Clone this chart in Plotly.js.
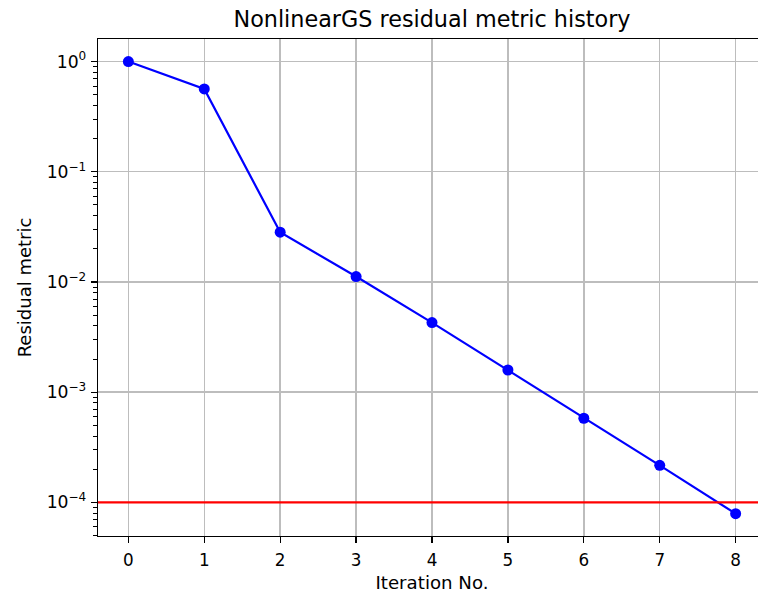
<!DOCTYPE html>
<html>
<head>
<meta charset="utf-8">
<script src="https://cdn.plot.ly/plotly-3.0.1.min.js"></script>
<style>
  html, body { margin: 0; padding: 0; background: #ffffff; overflow: hidden; }
  #chart { width: 800px; height: 596px; }
</style>
</head>
<body>
<div id="chart"></div>
<script>
// Residual history of the nonlinear Gauss-Seidel solver
const iterations = [0, 1, 2, 3, 4, 5, 6, 7, 8];
const residuals = [1.0, 0.565, 0.0283, 0.0112, 0.00428, 0.00159, 0.00058, 0.000217, 0.000079];
const tolerance = 1e-4;

const xTickVals = [0, 1, 2, 3, 4, 5, 6, 7, 8];
const yTickVals = [1, 0.1, 0.01, 0.001, 0.0001];
const yTickText = ['10<sup>0</sup>', '10<sup>−1</sup>', '10<sup>−2</sup>', '10<sup>−3</sup>', '10<sup>−4</sup>'];

const xRange = [-0.4, 8.4];
const yRangeLog = [-4.305, 0.205];

const font = 'DejaVu Sans, Liberation Sans, sans-serif';

const traces = [
  {
    x: iterations,
    y: residuals,
    type: 'scatter',
    mode: 'lines+markers',
    line: { color: '#0000ff', width: 2.2 },
    marker: { color: '#0000ff', size: 11 },
    cliponaxis: false,
    hoverinfo: 'x+y'
  },
  {
    // convergence tolerance across the full axis width
    x: xRange,
    y: [tolerance, tolerance],
    type: 'scatter',
    mode: 'lines',
    line: { color: '#ff0000', width: 2.4 },
    hoverinfo: 'y'
  }
];

const layout = {
  width: 800,
  height: 596,
  margin: { l: 98, r: 34, t: 39, b: 60 },
  paper_bgcolor: '#ffffff',
  plot_bgcolor: '#ffffff',
  showlegend: false,
  font: { family: font, size: 16.5, color: '#000000' },
  title: {
    text: 'NonlinearGS residual metric history',
    font: { family: font, size: 22.3, color: '#000000' },
    x: 0.5,
    xref: 'paper',
    xanchor: 'center',
    y: 1 - 19 / 596,
    yref: 'container',
    yanchor: 'middle'
  },
  xaxis: {
    range: xRange,
    tickmode: 'array',
    tickvals: xTickVals,
    ticks: 'outside',
    ticklen: 6,
    tickwidth: 1.2,
    tickcolor: '#000000',
    showline: true,
    linecolor: '#000000',
    linewidth: 1.3,
    mirror: true,
    showgrid: true,
    gridcolor: '#bdbdbd',
    gridwidth: 1.4,
    zeroline: false,
    tickfont: { family: font, size: 16.8, color: '#000000' },
    ticklabelstandoff: 3,
    title: {
      text: 'Iteration No.',
      font: { family: font, size: 18.2, color: '#000000' },
      standoff: 6
    },
    automargin: false
  },
  yaxis: {
    type: 'log',
    range: yRangeLog,
    tickmode: 'array',
    tickvals: yTickVals,
    ticktext: yTickText,
    ticks: 'outside',
    ticklen: 6,
    tickwidth: 1.2,
    tickcolor: '#000000',
    minor: {
      ticks: 'outside',
      ticklen: 3.5,
      tickwidth: 1,
      tickcolor: '#000000',
      dtick: 'D1',
      showgrid: false
    },
    showline: true,
    linecolor: '#000000',
    linewidth: 1.3,
    mirror: true,
    showgrid: true,
    gridcolor: '#bdbdbd',
    gridwidth: 1.4,
    zeroline: false,
    tickfont: { family: font, size: 17.2, color: '#000000' },
    ticklabelstandoff: 1,
    title: {
      text: 'Residual metric',
      font: { family: font, size: 18, color: '#000000' },
      standoff: 10
    },
    automargin: false
  }
};

Plotly.newPlot('chart', traces, layout, { displayModeBar: false, staticPlot: true });
</script>
</body>
</html>
